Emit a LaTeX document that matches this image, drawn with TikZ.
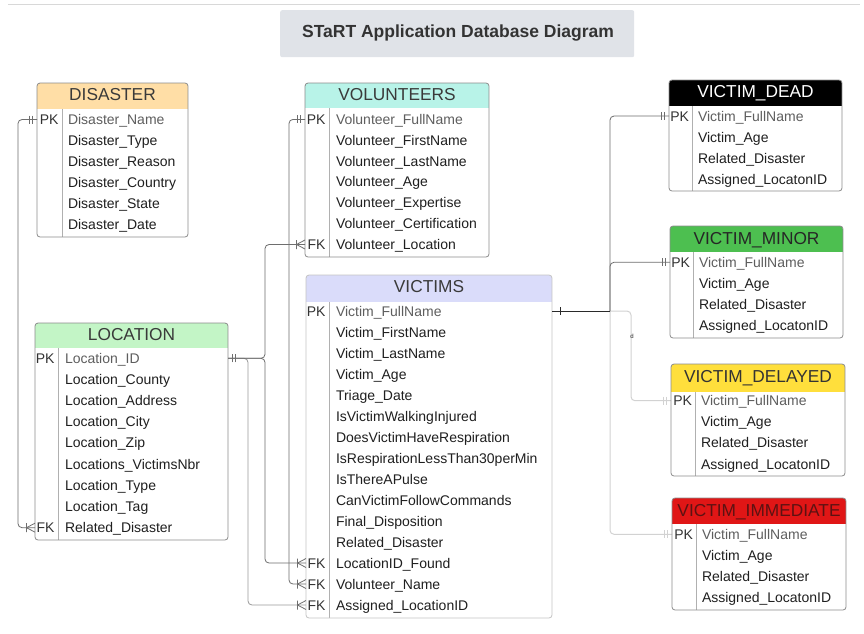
\documentclass[tikz,border=0pt]{standalone}
\usepackage{fontspec}
\setmainfont{Liberation Sans}
\usetikzlibrary{calc}
\definecolor{hdrDis}{HTML}{FFDEA6}
\definecolor{hdrVol}{HTML}{B8F3E8}
\definecolor{hdrLoc}{HTML}{C3F5C6}
\definecolor{hdrVic}{HTML}{DADCFA}
\definecolor{hdrMin}{HTML}{4DBF50}
\definecolor{hdrDel}{HTML}{FFDF3C}
\definecolor{hdrImm}{HTML}{E01616}
\definecolor{titlebg}{HTML}{E0E3E8}
\definecolor{titletext}{HTML}{333333}
\definecolor{hdrtext}{HTML}{3A3A3A}
\definecolor{immtext}{HTML}{5C1212}
\definecolor{fieldc}{HTML}{1F1F1F}
\definecolor{pkfc}{HTML}{5E5E5E}
\definecolor{keyc}{HTML}{333333}
\definecolor{boxc}{HTML}{8C8C8C}
\definecolor{boxlight}{HTML}{C4C4C4}
\definecolor{divc}{HTML}{B0B0B0}
\definecolor{connc}{HTML}{6E6E6E}
\definecolor{conndark}{HTML}{2A2A2A}
\definecolor{connlight}{HTML}{D2D2D2}
\definecolor{topc}{HTML}{D8D8D8}
\tikzset{
  fld/.style={anchor=west, inner sep=0, outer sep=0, text height=10pt, text depth=0pt,
    font=\fontsize{14}{16}\selectfont, text=fieldc},
  pkf/.style={text=pkfc},
  keyl/.style={anchor=east, inner sep=0, outer sep=0, text height=10pt, text depth=0pt,
    font=\fontsize{14}{16}\selectfont, text=keyc},
  hdr/.style={anchor=base, inner sep=0, font=\fontsize{17.3}{20}\selectfont, text=hdrtext},
  cline/.style={color=connc, line width=0.8pt},
  darkl/.style={color=conndark, line width=0.9pt},
  lightl/.style={color=connlight, line width=1pt},
  rc/.style={rounded corners=4pt},
  ermone/.pic={\draw (-4.5,-4) -- (-4.5,4) (-7.5,-4) -- (-7.5,4);},
  ermany/.pic={\draw (-8.5,-4.5) -- (-8.5,4.5) (-8.5,0) -- (0,-4.5) (-8.5,0) -- (0,4.5);},
  erbar/.pic={\draw (0,-4) -- (0,4);}
}
% #1 name #2 left #3 top #4 right #5 bottom #6 header bottom #7 divider #8 header fill #9 border colour
\newcommand\ertable[9]{%
  \node[inner sep=0, outer sep=0, minimum width={(#4-#2)*1pt}, minimum height={(#5-#3)*1pt},
    anchor=north west] (#1) at (#2,#3) {};
  \begin{scope}
    \clip[rounded corners=3pt] (#2,#3) rectangle (#4,#5);
    \fill[#8] (#2,#3) rectangle (#4,#6);
  \end{scope}
  \draw[divc, line width=0.7pt] (#7,#6) -- (#7,#5);
  \draw[#9, line width=0.8pt, rounded corners=3pt] (#1.north west) rectangle (#1.south east);
}
% #1 prefix #2 x #3 y0 #4 spacing #5 first index #6 list
\newcommand\errows[6]{%
  \foreach \t [count=\i from #5] in {#6} {
    \node[fld] (#1\i) at (#2,{#3+(\i-1)*#4}) {\t};
  }%
}
\begin{document}
\begin{tikzpicture}[x=1pt,y=-1pt]
\useasboundingbox (0,0) rectangle (864,633);
\fill[white] (0,0) rectangle (864,633);
\draw[topc, line width=1pt] (8,4.5) -- (860,4.5);

% title
\node[fill=titlebg, rounded corners=2pt, inner sep=0, minimum width=354pt, minimum height=47pt,
  anchor=north west] (titlebox) at (280,10) {};
\node[anchor=base, inner sep=0, font=\bfseries\fontsize{17.5}{20}\selectfont, text=titletext]
  (title) at (458,37.5) {STaRT Application Database Diagram};

% ---------- connectors (under the tables) ----------
\coordinate (vj) at (610,311);
\draw[lightl, rc] (vj) -- ++(21,0) |- (671,400.7);
\draw[lightl, rc] (vj) |- (672,534.3);

% ---------- DISASTER ----------
\ertable{disaster}{37}{83}{188}{237}{109}{62}{hdrDis}{boxc}
\node[hdr] (disT) at (112.5,100) {DISASTER};
\node[keyl] (dpk) at (58.5,119.5) {PK};
\node[fld, pkf] (d1) at (68,119.5) {Disaster\_Name};
\errows{d}{68}{119.5}{21}{2}{Disaster\_Type, Disaster\_Reason, Disaster\_Country, Disaster\_State, Disaster\_Date}

% ---------- VOLUNTEERS ----------
\ertable{volunteers}{305}{83}{489}{257}{108}{329}{hdrVol}{boxc}
\node[hdr] (volT) at (397,100.5) {VOLUNTEERS};
\node[keyl] (opk) at (325.5,119.4) {PK};
\node[fld, pkf] (o1) at (336,119.4) {Volunteer\_FullName};
\errows{o}{336}{119.4}{20.85}{2}{Volunteer\_FirstName, Volunteer\_LastName, Volunteer\_Age, Volunteer\_Expertise, Volunteer\_Certification, Volunteer\_Location}
\node[keyl] (ofk) at (325.5,244.5) {FK};

% ---------- LOCATION ----------
\ertable{location}{35}{323}{228}{540}{348}{58}{hdrLoc}{boxc}
\node[hdr] (locT) at (131.5,340) {LOCATION};
\node[keyl] (lpk) at (54.5,358.3) {PK};
\node[fld, pkf] (l1) at (65,358.3) {Location\_ID};
\errows{l}{65}{358.3}{21.17}{2}{Location\_County, Location\_Address, Location\_City, Location\_Zip, Locations\_VictimsNbr, Location\_Type, Location\_Tag, Related\_Disaster}
\node[keyl] (lfk) at (54.5,527.7) {FK};

% ---------- VICTIMS ----------
\ertable{victims}{306}{275}{552}{618}{302}{329}{hdrVic}{boxlight}
\node[hdr] (vicT) at (429,292) {VICTIMS};
\node[keyl] (vpk) at (325.5,311) {PK};
\node[fld, pkf] (v1) at (336,311) {Victim\_FullName};
\errows{v}{336}{311}{21}{2}{Victim\_FirstName, Victim\_LastName, Victim\_Age, Triage\_Date, IsVictimWalkingInjured, DoesVictimHaveRespiration, IsRespirationLessThan30perMin, IsThereAPulse, CanVictimFollowCommands, Final\_Disposition, Related\_Disaster, LocationID\_Found, Volunteer\_Name, Assigned\_LocationID}
\node[keyl] (vfk1) at (325.5,563) {FK};
\node[keyl] (vfk2) at (325.5,584) {FK};
\node[keyl] (vfk3) at (325.5,605) {FK};

% ---------- VICTIM_DEAD ----------
\ertable{dead}{669}{80}{842}{191}{106}{692}{black}{boxc}
\node[hdr, text=white] (deadT) at (755.5,97.3) {VICTIM\_DEAD};
\node[keyl] (apk) at (689,116) {PK};
\node[fld, pkf] (a1) at (698,116) {Victim\_FullName};
\errows{a}{698}{116}{21}{2}{Victim\_Age, Related\_Disaster, Assigned\_LocatonID}

% ---------- VICTIM_MINOR ----------
\ertable{minor}{670}{226}{843}{338}{252}{693}{hdrMin}{boxc}
\node[hdr, text=black!85] (minT) at (756.5,244) {VICTIM\_MINOR};
\node[keyl] (bpk) at (690,262.3) {PK};
\node[fld, pkf] (b1) at (699,262.3) {Victim\_FullName};
\errows{b}{699}{262.3}{20.9}{2}{Victim\_Age, Related\_Disaster, Assigned\_LocatonID}

% ---------- VICTIM_DELAYED ----------
\ertable{delayed}{671}{364}{845}{476}{392}{695}{hdrDel}{boxc}
\node[hdr, text=black!80] (delT) at (758,382.7) {VICTIM\_DELAYED};
\node[keyl] (cpk) at (692,400.7) {PK};
\node[fld, pkf] (c1) at (701,400.7) {Victim\_FullName};
\errows{c}{701}{400.7}{21.1}{2}{Victim\_Age, Related\_Disaster, Assigned\_LocatonID}

% ---------- VICTIM_IMMEDIATE ----------
\ertable{immediate}{672}{498}{846}{610}{524}{696}{hdrImm}{boxc}
\node[hdr, text=immtext] (immT) at (759,516) {VICTIM\_IMMEDIATE};
\node[keyl] (epk) at (693,534.3) {PK};
\node[fld, pkf] (e1) at (702,534.3) {Victim\_FullName};
\errows{e}{702}{534.3}{21}{2}{Victim\_Age, Related\_Disaster, Assigned\_LocatonID}

% ---------- connectors ----------
% disaster -> location
\draw[cline, rc] (disaster.west |- d1) -- ++(-19,0) |- (location.west |- l9);
\pic[cline] at (disaster.west |- d1) {ermone};
\pic[cline] at (location.west |- l9) {ermany};
% volunteers -> victims
\draw[cline, rc] (volunteers.west |- o1) -- ++(-16,0) |- (victims.west |- v14);
\pic[cline] at (volunteers.west |- o1) {ermone};
\pic[cline] at (victims.west |- v14) {ermany};
% location -> volunteers / victims
\draw[color=connc!70, line width=0.8pt, rc] (location.east |- l1) -- ++(20,0) |- (victims.west |- v15);
\draw[cline, rc] (location.east |- l1) -- ++(37,0) |- (volunteers.west |- o7);
\draw[cline, rc] (location.east |- l1) -- ++(37,0) |- (victims.west |- v13);
\pic[cline, rotate=180] at (location.east |- l1) {ermone};
\pic[cline] at (volunteers.west |- o7) {ermany};
\pic[cline] at (victims.west |- v13) {ermany};
\pic[cline] at (victims.west |- v15) {ermany};
% victims -> classification tables
\pic[lightl] at (delayed.west |- c1) {ermone};
\pic[lightl] at (immediate.west |- e1) {ermone};
\draw[cline, rc] (vj) |- (dead.west |- a1);
\draw[cline, rc] (vj) |- (minor.west |- b1);
\draw[darkl] (victims.east |- v1) -- (vj);
\pic[darkl] at ($(victims.east |- v1)+(8,0)$) {erbar};
\pic[cline] at (dead.west |- a1) {ermone};
\pic[cline] at (minor.west |- b1) {ermone};
\node[inner sep=0, font=\fontsize{6}{7}\selectfont, text=conndark] (dlab) at (632,336.5) {d};
\end{tikzpicture}
\end{document}
